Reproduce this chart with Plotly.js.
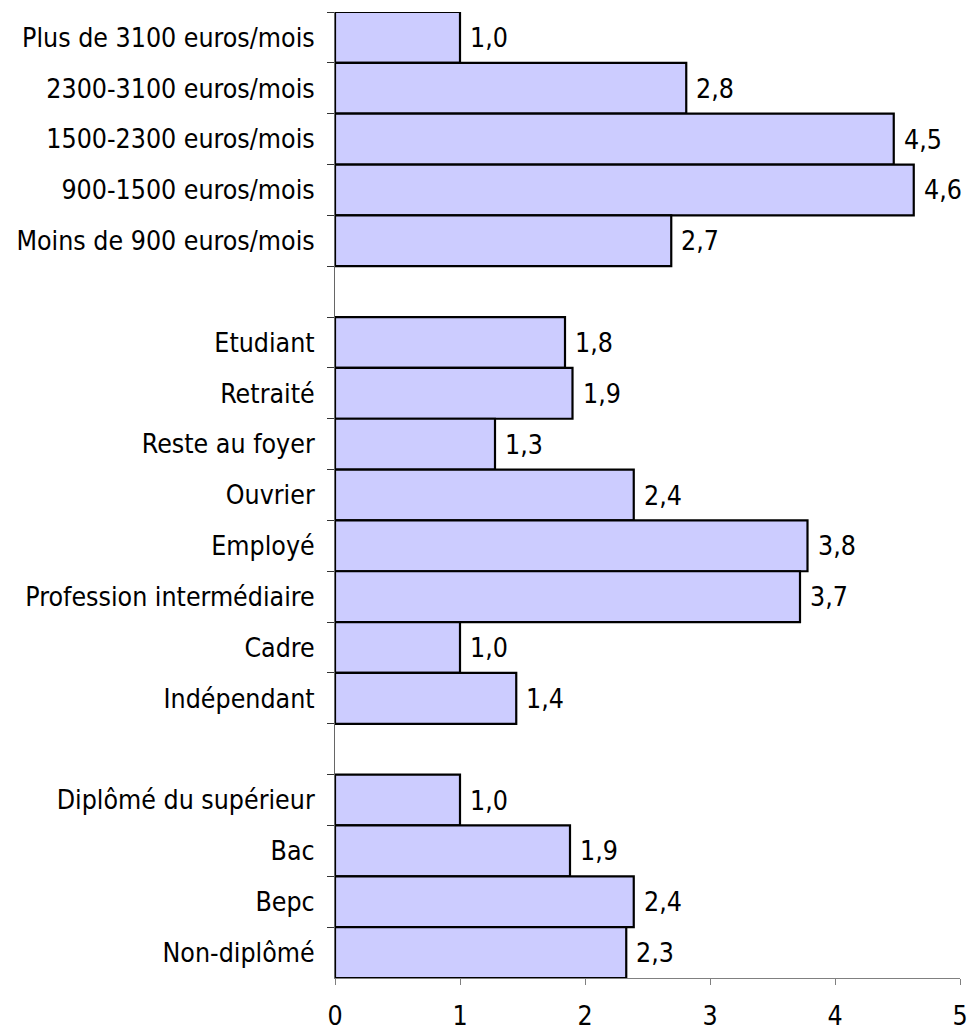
<!DOCTYPE html>
<html>
<head>
<meta charset="utf-8">
<script src="https://cdn.plot.ly/plotly-3.0.1.min.js"></script>
<style>html,body{margin:0;padding:0;background:#fff;}</style>
</head>
<body>
<div id="chart" style="width:969px;height:1030px;"></div>
<script>
// Groups, listed top to bottom
const incomeLabels = ['Plus de 3100 euros/mois','2300-3100 euros/mois','1500-2300 euros/mois','900-1500 euros/mois','Moins de 900 euros/mois'];
const incomeValues = [1.0, 2.81, 4.47, 4.63, 2.69];

const occupationLabels = ['Etudiant','Retraité','Reste au foyer','Ouvrier','Employé','Profession intermédiaire','Cadre','Indépendant'];
const occupationValues = [1.84, 1.90, 1.28, 2.39, 3.78, 3.72, 1.0, 1.45];

const educationLabels = ['Diplômé du supérieur','Bac','Bepc','Non-diplômé'];
const educationValues = [1.0, 1.88, 2.39, 2.33];

const xTicks = [0, 1, 2, 3, 4, 5];

// Build the category list with empty spacer rows between groups
const spacers = [' ', '  '];
const cats = [].concat(incomeLabels, [spacers[0]], occupationLabels, [spacers[1]], educationLabels);
const vals = [].concat(incomeValues, [null], occupationValues, [null], educationValues);

const FONT = '"DejaVu Sans Condensed", "DejaVu Sans", Tahoma, sans-serif';
const FS = 26.5;

const annotations = [];
cats.forEach((c, i) => {
  if (vals[i] === null) return;
  annotations.push({
    x: vals[i], y: c, xref: 'x', yref: 'y',
    text: vals[i].toFixed(1).replace('.', ','),
    showarrow: false, xanchor: 'left', yanchor: 'middle', xshift: 8,
    font: {family: FONT, size: FS, color: '#000'}
  });
});

const trace = {
  type: 'bar', orientation: 'h',
  x: vals, y: cats,
  marker: {color: '#CCCCFF', line: {color: '#000000', width: 2.2}},
  hoverinfo: 'x+y'
};

const layout = {
  width: 969, height: 1030,
  margin: {l: 335, r: 9, t: 12, b: 52, pad: 0},
  paper_bgcolor: '#fff', plot_bgcolor: '#fff',
  bargap: 0,
  showlegend: false,
  font: {family: FONT, size: FS, color: '#000'},
  xaxis: {
    range: [0, 5], tickvals: xTicks, ticktext: xTicks.map(String),
    showgrid: false, zeroline: false,
    showline: true, linecolor: '#808080', linewidth: 1,
    ticks: 'outside', ticklen: 6, tickcolor: '#808080', tickwidth: 1,
    ticklabelstandoff: 8,
    tickfont: {family: FONT, size: FS, color: '#000'}, fixedrange: true
  },
  yaxis: {
    type: 'category', categoryorder: 'array', categoryarray: cats,
    autorange: 'reversed',
    tickson: 'boundaries',
    showgrid: false, zeroline: false,
    showline: true, linecolor: '#666666', linewidth: 1,
    ticks: 'outside', ticklen: 7, tickcolor: '#333333', tickwidth: 1,
    ticklabelstandoff: 14,
    tickfont: {family: FONT, size: FS, color: '#000'}, fixedrange: true
  },
  annotations: annotations
};

Plotly.newPlot('chart', [trace], layout, {displayModeBar: false, staticPlot: true});
</script>
</body>
</html>
